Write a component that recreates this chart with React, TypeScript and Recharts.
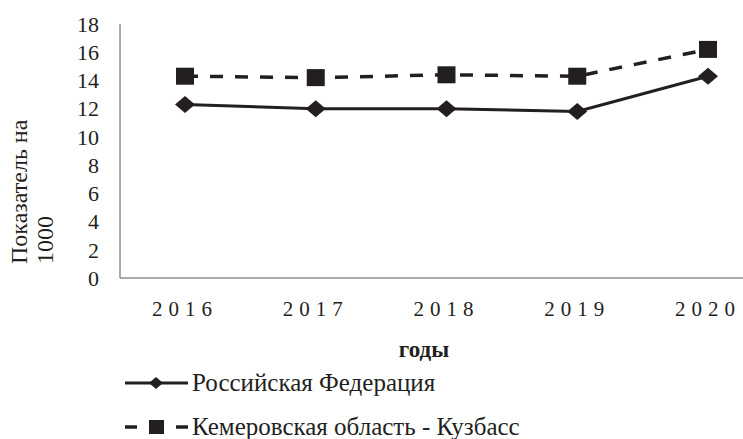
import React from 'react';
import { LineChart, Line, XAxis, YAxis, Label } from 'recharts';

const years = ['2016', '2017', '2018', '2019', '2020'];
const russia = [12.3, 12.0, 12.0, 11.8, 14.3];
const kuzbass = [14.3, 14.2, 14.4, 14.3, 16.2];
const yTicks = [0, 2, 4, 6, 8, 10, 12, 14, 16, 18];

const seriesNames = ['Российская Федерация', 'Кемеровская область - Кузбасс'];
const yTitle = ['Показатель на', '1000'];
const xTitle = 'годы';

const INK = '#231f20';
const FONT = "'Liberation Serif', 'DejaVu Serif', serif";

const data = years.map((year, i) => ({ year, rf: russia[i], kuz: kuzbass[i] }));

const Diamond = (props: any) => {
  const { cx, cy, size = 10 } = props;
  if (cx == null || cy == null) return null;
  return (
    <path
      d={`M${cx},${cy - size * 0.85} L${cx + size},${cy} L${cx},${cy + size * 0.85} L${cx - size},${cy} Z`}
      fill={INK}
    />
  );
};

const Square = (props: any) => {
  const { cx, cy } = props;
  if (cx == null || cy == null) return null;
  return <rect x={cx - 9} y={cy - 8.5} width={18} height={17} fill={INK} />;
};

const YTitle = () => (
  <g fill={INK} style={{ fontFamily: FONT, fontSize: 24 }}>
    <text transform="translate(19,264) rotate(-90)" textAnchor="start" dominantBaseline="central">
      {yTitle[0]}
    </text>
    <text transform="translate(45,264) rotate(-90)" textAnchor="start" dominantBaseline="central">
      {yTitle[1]}
    </text>
  </g>
);

const XTitle = () => (
  <text x={424} y={349} textAnchor="middle" dominantBaseline="central" fill={INK} style={{ fontFamily: FONT, fontSize: 23, fontWeight: 'bold' }}>
    {xTitle}
  </text>
);

const legendText: React.CSSProperties = { fontFamily: FONT, fontSize: 25, color: INK, marginLeft: 3 };

const LegendBox = () => (
  <div style={{ position: 'absolute', left: 0, top: 0, width: 743, height: 439, pointerEvents: 'none' }}>
    <div style={{ position: 'absolute', left: 125, top: 368, display: 'flex', alignItems: 'center', height: 30 }}>
      <svg width={64} height={20}>
        <line x1={0} y1={10} x2={63} y2={10} stroke={INK} strokeWidth={3} />
        <Diamond cx={31} cy={10} size={7} />
      </svg>
      <span style={legendText}>{seriesNames[0]}</span>
    </div>
    <div style={{ position: 'absolute', left: 125, top: 412, display: 'flex', alignItems: 'center', height: 30 }}>
      <svg width={64} height={20}>
        <line x1={0} y1={10} x2={12} y2={10} stroke={INK} strokeWidth={3.5} />
        <rect x={24} y={3} width={15} height={14} fill={INK} />
        <line x1={51} y1={10} x2={63} y2={10} stroke={INK} strokeWidth={3.5} />
      </svg>
      <span style={legendText}>{seriesNames[1]}</span>
    </div>
  </div>
);

export default function App() {
  return (
    <div style={{ position: 'absolute', left: 0, top: 0, width: 743, height: 439, overflow: 'hidden', background: '#fff' }}>
      <LineChart width={780} height={439} data={data} margin={{ top: 24, right: 7, left: 0, bottom: 0 }}>
        <XAxis
          dataKey="year"
          height={161}
          padding={{ left: 65, right: 65 }}
          tickLine={false}
          tickSize={0}
          tickMargin={23}
          axisLine={{ stroke: '#595959', strokeWidth: 1 }}
          tick={{ fill: INK, style: { fontFamily: FONT, fontSize: 21, letterSpacing: 6 } }}
        >
          <Label content={<XTitle />} />
        </XAxis>
        <YAxis
          width={120}
          domain={[0, 18]}
          ticks={yTicks}
          interval={0}
          tickLine={false}
          tickSize={0}
          tickMargin={21}
          axisLine={{ stroke: '#595959', strokeWidth: 1 }}
          tick={{ fill: INK, style: { fontFamily: FONT, fontSize: 22 } }}
        >
          <Label content={<YTitle />} />
        </YAxis>
        <Line
          dataKey="rf"
          name={seriesNames[0]}
          stroke={INK}
          strokeWidth={3}
          dot={<Diamond size={10} />}
          activeDot={false}
          isAnimationActive={false}
        />
        <Line
          dataKey="kuz"
          name={seriesNames[1]}
          stroke={INK}
          strokeWidth={3.5}
          strokeDasharray="13 12"
          dot={<Square />}
          activeDot={false}
          isAnimationActive={false}
        />
      </LineChart>
      <LegendBox />
    </div>
  );
}
